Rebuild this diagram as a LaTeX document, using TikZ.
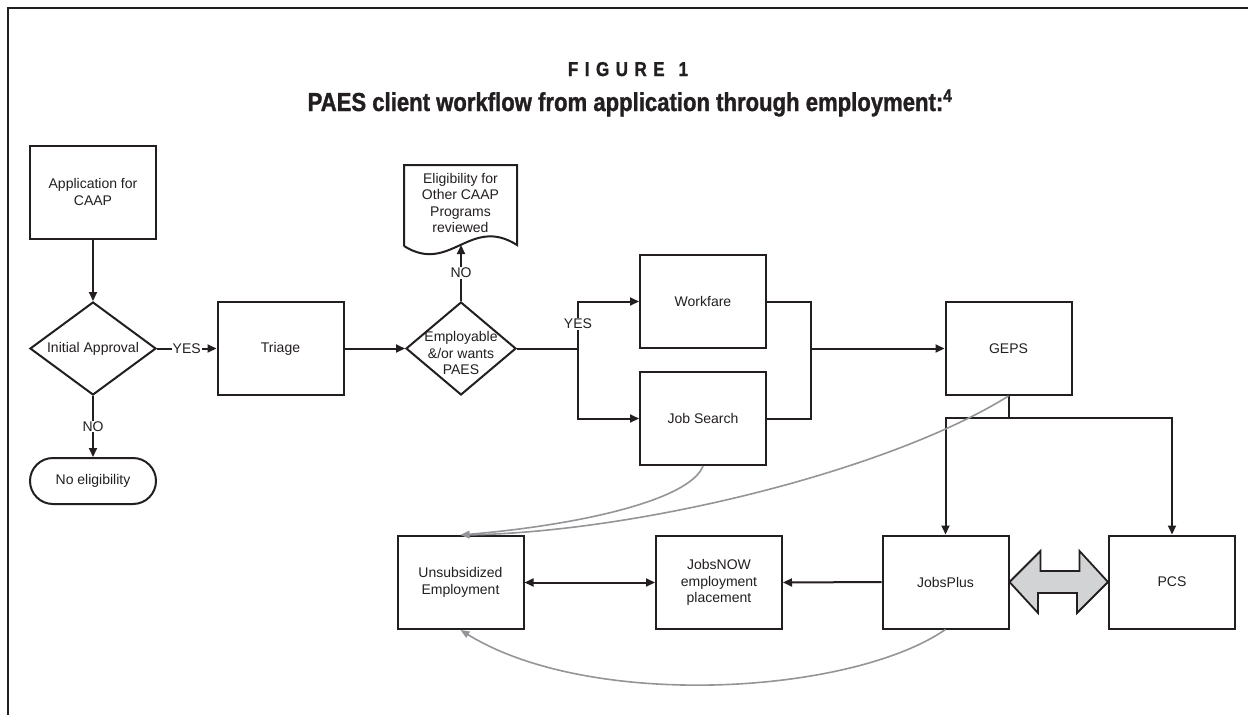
\documentclass[tikz,border=0pt]{standalone}
\usepackage{fontspec}
\setmainfont{Liberation Sans}
\newfontfamily\titlefont{Liberation Sans}[FakeStretch=0.85,BoldFeatures={FakeBold=1.2}]
\usetikzlibrary{shapes.geometric,arrows.meta,calc}
\definecolor{ink}{HTML}{231F20}
\definecolor{curvegray}{HTML}{939598}
\definecolor{blockgray}{HTML}{D1D3D4}
\begin{document}
\begin{tikzpicture}[x=1pt,y=-1pt,
  every node/.style={text=ink, font=\fontsize{14}{16.5}\selectfont},
  box/.style={draw=ink, line width=2pt, minimum width=126pt, minimum height=93pt, inner sep=0pt, align=center},
  dia/.style={draw=ink, line width=2pt, diamond, minimum height=93pt, inner sep=0pt},
  term/.style={draw=ink, line width=2pt, rounded corners=23pt, minimum width=126pt, minimum height=46pt, inner sep=0pt},
  conn/.style={draw=ink, line width=2pt},
  arr/.style={conn, -{Triangle[length=9pt,width=8pt]}},
  darr/.style={conn, {Triangle[length=9pt,width=8pt]}-{Triangle[length=9pt,width=8pt]}},
  garr/.style={draw=curvegray, line width=1.6pt, -{Triangle[length=9pt,width=7pt]}},
  lab/.style={fill=white, inner sep=1pt},
  doctext/.style={align=center, inner sep=0pt}
]
\useasboundingbox (0,0) rectangle (1248,715);
\fill[white] (0,0) rectangle (1248,715);
% frame
\draw[ink, line width=2.5pt] (8,715) -- (8,8) -- (1248,8);

% title
\node[anchor=base, font=\titlefont\bfseries\fontsize{20}{24}\selectfont] (fig) at (628,76)
  {F\hspace{6.5pt}I\hspace{6.5pt}G\hspace{6.5pt}U\hspace{6.5pt}R\hspace{6.5pt}E\hspace{14pt}1};
\node[anchor=base, font=\titlefont\bfseries\fontsize{26}{30}\selectfont] (title) at (630,111)
  {PAES client workflow from application through employment:\textsuperscript{4}};

% nodes
\node[box] (app) at (93,192) {Application for\\CAAP};
\node[dia, minimum width=126pt, label=center:{Initial Approval}] (ia) at (93,348.5) {};
\node[term] (noel) at (93,481) {No eligibility};
\node[box] (tri) at (280.5,348.5) {Triage};
\node[dia, minimum width=110pt,
  label={[align=center, yshift=-4.5pt]center:{Employable\\\&/or wants\\PAES}}] (emp) at (461,348.5) {};
\node[doctext] (doc) at (460.5,203) {Eligibility for\\Other CAAP\\Programs\\reviewed};
\draw[conn] (404,246) -- (404,165) -- (517,165) -- (517,245)
  .. controls (470,215) and (450,275) .. (404,246);
\coordinate (docb) at (461,245);
\node[box] (work) at (703,301.5) {Workfare};
\node[box] (job) at (703,418.5) {Job Search};
\node[box] (geps) at (1008.5,348.5) {GEPS};
\node[box] (jp) at (945.5,582) {JobsPlus};
\node[box] (pcs) at (1172,582) {PCS};
\node[box] (jn) at (719,582.5) {JobsNOW\\employment\\placement};
\node[box] (ue) at (460.5,582.5) {Unsubsidized\\Employment};

% connectors
\draw[arr] (app) -- (ia);
\draw[arr] (ia.east) -- node[lab]{YES} (tri.west);
\draw[arr] (ia.south) -- node[lab]{NO} (noel.north);
\draw[arr] (tri.east) -- (emp.west);
\draw[arr] (emp.north) -- node[lab]{NO} (docb);

\coordinate (j1) at (578,348.5);
\draw[conn] (emp.east) -- (j1);
\draw[arr] (j1) |- (work.west);
\draw[arr] (j1) |- (job.west);
\node[lab] (yes2) at (578,324) {YES};

\coordinate (m) at (811,348.5);
\draw[conn] (work.east) -| (m);
\draw[conn] (job.east) -| (m);
\draw[arr] (m) -- (geps.west);

\coordinate (g1) at (1008.5,418);
\draw[conn] (geps.south) -- (g1);
\draw[arr] (g1) -| (jp.north);
\draw[arr] (g1) -| (pcs.north);

\draw[arr] (jp.west) -- (jn.east);
\draw[darr] (ue.east) -- (jn.west);

% block double arrow
\filldraw[fill=blockgray, draw=ink, line width=1.8pt, line join=miter]
  (jp.east) -- ++(31,-31) -- ++(0,20) -- ++(39,0) -- ++(0,-20) -- (pcs.west)
  -- ++(-31,31) -- ++(0,-20) -- ++(-39,0) -- ++(0,20) -- cycle;

% gray curves
\draw[garr] (job.south) .. controls (690,500) and (580,525) .. (ue.north);
\draw[garr] (geps.south) .. controls (890,470) and (640,532) .. (ue.north);
\draw[garr] (jp.south) .. controls (850,695) and (590,710) .. (ue.south);
\end{tikzpicture}
\end{document}
